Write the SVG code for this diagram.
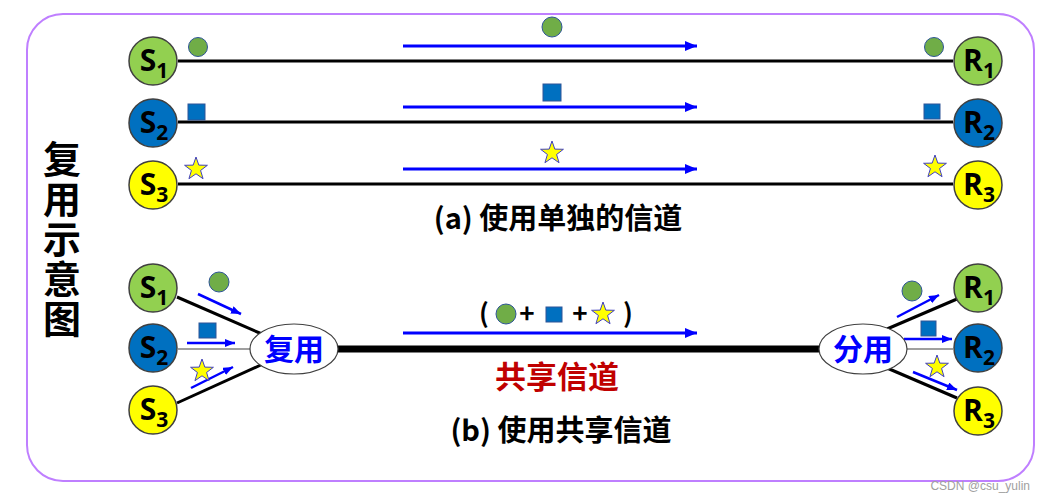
<svg xmlns="http://www.w3.org/2000/svg" xmlns:xlink="http://www.w3.org/1999/xlink" width="1058" height="501" viewBox="0 0 1058 501">
<style>
.node{stroke:#404040;stroke-width:1.5}
.g{fill:#92D050}.b{fill:#0070C0}.y{fill:#FFFF00}
.lbl{font-family:"Open Sans","Noto Sans","Liberation Sans",sans-serif;font-weight:bold;font-size:30px;fill:#000;text-anchor:middle}
.sub{font-size:21px}
.dot{fill:#70AD47;stroke:#2F5597;stroke-width:1}
.sq{fill:#0070C0;stroke:#2F5597;stroke-width:1}
.st{fill:#FFFF00;stroke:#4040C0;stroke-width:1}
.wire{stroke:#000;stroke-width:3;fill:none}
.thin{stroke:#7F7F7F;stroke-width:1.5;fill:none}
.flow{stroke:#0000FF;stroke-width:3;fill:none;marker-end:url(#ah)}
.flows{stroke:#0000FF;stroke-width:2.5;fill:none;marker-end:url(#ahs)}
.cap{font-family:"Noto Sans CJK SC","Noto Sans",sans-serif;font-weight:bold;fill:#000;text-anchor:middle}
.mx{font-family:"Noto Sans CJK SC",sans-serif;font-weight:bold;font-size:30px;fill:#0000FF;text-anchor:middle}
.ell{fill:#fff;stroke:#404040;stroke-width:1.2}
</style>
<defs>
<polygon id="star" points="0,-12 2.82,-3.88 11.41,-3.71 4.57,1.48 7.05,9.71 0,4.8 -7.05,9.71 -4.57,1.48 -11.41,-3.71 -2.82,-3.88"/>
<marker id="ah" markerUnits="userSpaceOnUse" markerWidth="14" markerHeight="12" refX="12" refY="5" orient="auto"><path d="M0,0 L12,5 L0,10 Z" fill="#0000FF"/></marker>
<marker id="ahs" markerUnits="userSpaceOnUse" markerWidth="12" markerHeight="10" refX="10" refY="4" orient="auto"><path d="M0,0 L10,4 L0,8 Z" fill="#0000FF"/></marker>
</defs>
<rect x="27" y="14" width="1007" height="467" rx="36" ry="36" fill="#fff" stroke="#BF7FFF" stroke-width="2"/>
<text class="cap" font-size="38" x="62" y="140" style="writing-mode:vertical-rl;text-anchor:start;letter-spacing:2px">复用示意图</text>

<g id="connectors">
<line class="wire" x1="178" y1="61" x2="953" y2="61"/>
<line class="wire" x1="178" y1="122" x2="953" y2="122"/>
<line class="wire" x1="178" y1="184" x2="953" y2="184"/>
<line class="flow" x1="403" y1="46" x2="697" y2="46"/>
<line class="flow" x1="403" y1="107" x2="697" y2="107"/>
<line class="flow" x1="403" y1="169" x2="697" y2="169"/>
<line class="wire" x1="177" y1="297" x2="262" y2="334"/>
<line class="thin" x1="178" y1="349" x2="250" y2="349"/>
<line class="wire" x1="177" y1="403" x2="263" y2="364"/>
<line stroke="#000" stroke-width="7" x1="338" y1="349" x2="819" y2="349"/>
<line class="wire" x1="887" y1="329" x2="957" y2="299"/>
<line class="thin" x1="907" y1="349" x2="953" y2="349"/>
<line class="wire" x1="887" y1="368" x2="957" y2="398"/>
<line class="flows" x1="198" y1="294" x2="241" y2="314"/>
<line class="flows" x1="187" y1="343" x2="235" y2="343"/>
<line class="flows" x1="191" y1="388" x2="233" y2="367"/>
<line class="flow" x1="403" y1="333" x2="697" y2="333"/>
<line class="flows" x1="897" y1="317" x2="939" y2="295"/>
<line class="flows" x1="904" y1="339" x2="952" y2="339"/>
<line class="flows" x1="913" y1="372" x2="957" y2="390"/>
</g>

<g id="symbols">
<circle class="dot" cx="198" cy="47" r="9.5"/>
<rect class="sq" x="188" y="104" width="17" height="16"/>
<use href="#star" class="st" x="196" y="169"/>
<circle class="dot" cx="552" cy="27" r="10"/>
<rect class="sq" x="543" y="84" width="18" height="17"/>
<use href="#star" class="st" x="552" y="153"/>
<circle class="dot" cx="934" cy="47" r="9.5"/>
<rect class="sq" x="924" y="104" width="16" height="15"/>
<use href="#star" class="st" x="935" y="167"/>
<circle class="dot" cx="219" cy="282" r="10"/>
<rect class="sq" x="199" y="323" width="17" height="15"/>
<use href="#star" class="st" x="202" y="371"/>
<circle class="dot" cx="912" cy="291" r="10"/>
<rect class="sq" x="921" y="321" width="15" height="15"/>
<use href="#star" class="st" x="937" y="367"/>
<circle class="dot" cx="506" cy="314" r="10"/>
<rect class="sq" x="546" y="307" width="16" height="15"/>
<use href="#star" class="st" x="603" y="314"/>
</g>

<g id="S1a"><circle class="node g" cx="153" cy="61" r="24"/><text class="lbl" x="154" y="71">S<tspan class="sub" dy="7">1</tspan></text></g>
<g id="S2a"><circle class="node b" cx="153" cy="123" r="24"/><text class="lbl" x="154" y="133">S<tspan class="sub" dy="7">2</tspan></text></g>
<g id="S3a"><circle class="node y" cx="153" cy="185" r="24"/><text class="lbl" x="154" y="195">S<tspan class="sub" dy="7">3</tspan></text></g>
<g id="R1a"><circle class="node g" cx="978" cy="61" r="24"/><text class="lbl" x="979" y="71">R<tspan class="sub" dy="7">1</tspan></text></g>
<g id="R2a"><circle class="node b" cx="978" cy="123" r="24"/><text class="lbl" x="979" y="133">R<tspan class="sub" dy="7">2</tspan></text></g>
<g id="R3a"><circle class="node y" cx="978" cy="185" r="24"/><text class="lbl" x="979" y="195">R<tspan class="sub" dy="7">3</tspan></text></g>

<g id="S1b"><circle class="node g" cx="153" cy="288" r="24"/><text class="lbl" x="154" y="298">S<tspan class="sub" dy="7">1</tspan></text></g>
<g id="S2b"><circle class="node b" cx="153" cy="348" r="24"/><text class="lbl" x="154" y="358">S<tspan class="sub" dy="7">2</tspan></text></g>
<g id="S3b"><circle class="node y" cx="153" cy="410" r="24"/><text class="lbl" x="154" y="420">S<tspan class="sub" dy="7">3</tspan></text></g>
<g id="R1b"><circle class="node g" cx="978" cy="288" r="24"/><text class="lbl" x="979" y="298">R<tspan class="sub" dy="7">1</tspan></text></g>
<g id="R2b"><circle class="node b" cx="978" cy="348" r="24"/><text class="lbl" x="979" y="358">R<tspan class="sub" dy="7">2</tspan></text></g>
<g id="R3b"><circle class="node y" cx="978" cy="411" r="24"/><text class="lbl" x="979" y="421">R<tspan class="sub" dy="7">3</tspan></text></g>

<g id="mux"><ellipse class="ell" cx="294" cy="349" rx="44" ry="25"/><text class="mx" x="294" y="360">复用</text></g>
<g id="demux"><ellipse class="ell" cx="863" cy="349" rx="44" ry="25"/><text class="mx" x="863" y="360">分用</text></g>

<text class="cap" font-size="29" x="558" y="229">(a) 使用单独的信道</text>
<text class="cap" font-size="26" x="484" y="323">(</text>
<text class="cap" font-size="26" x="527" y="323">+</text>
<text class="cap" font-size="26" x="580" y="323">+</text>
<text class="cap" font-size="26" x="628" y="323">)</text>
<text class="cap" font-size="31" x="557" y="388" style="fill:#C00000">共享信道</text>
<text class="cap" font-size="29" x="561" y="441">(b) 使用共享信道</text>
<text x="1030" y="490" font-family="Liberation Sans,sans-serif" font-size="12" fill="#A0A0A0" text-anchor="end">CSDN @csu_yulin</text>
</svg>
